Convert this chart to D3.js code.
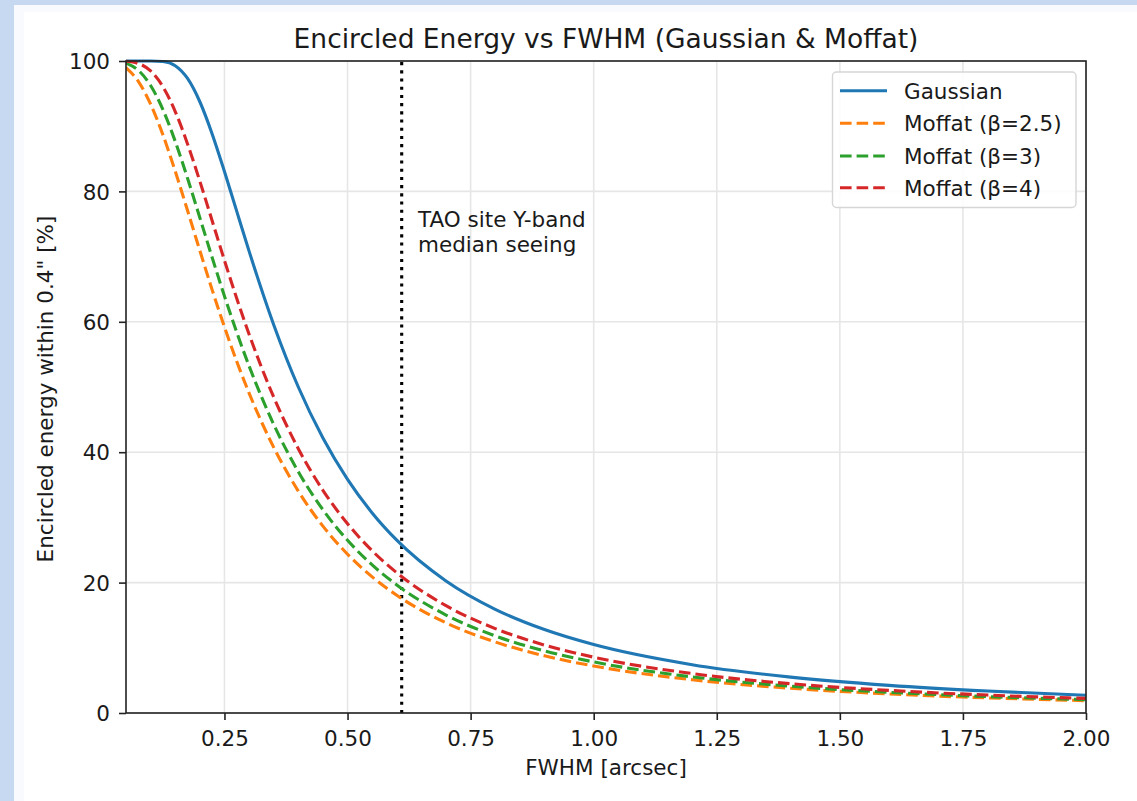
<!DOCTYPE html>
<html>
<head>
<meta charset="utf-8">
<script src="https://cdn.jsdelivr.net/npm/d3@7"></script>
<style>
  html, body { margin: 0; padding: 0; background: #ffffff; }
  svg { display: block; }
  text { font-family: "DejaVu Sans", sans-serif; fill: #1a1a1a; }
</style>
</head>
<body>
<svg id="chart" width="1137" height="801"></svg>
<script>
// ---- data ----
const fwhm = [0.05,0.075,0.1,0.125,0.15,0.175,0.2,0.225,0.25,0.275,0.3,0.35,0.4,0.45,0.5,0.55,0.6,0.7,0.8,0.9,1.0,1.2,1.4,1.6,1.8,2.0];
const gaussian = [100,100,100,99.92,99.28,97.32,93.75,88.82,83.04,76.93,70.84,59.56,50.0,42.17,35.83,30.69,26.51,20.26,15.91,12.80,10.50,7.41,5.50,4.24,3.37,2.73];
const moffat25 = [98.99,96.88,93.38,88.67,83.10,77.07,70.92,64.90,59.20,53.91,49.07,40.74,34.03,28.66,24.35,20.88,18.06,13.83,10.89,8.77,7.21,5.10,3.79,2.92,2.32,1.89];
const moffat3 = [99.68,98.58,96.24,92.54,87.67,82.01,75.96,69.86,63.94,58.37,53.22,44.27,37.00,31.17,26.49,22.71,19.64,15.03,11.83,9.53,7.83,5.54,4.11,3.17,2.52,2.05];
const moffat4 = [99.96,99.62,98.47,96.05,92.25,87.28,81.56,75.49,69.42,63.58,58.10,48.45,40.54,34.16,29.03,24.88,21.51,16.46,12.95,10.42,8.56,6.05,4.49,3.47,2.75,2.24];
const seriesNames = ["Gaussian", "Moffat (β=2.5)", "Moffat (β=3)", "Moffat (β=4)"];
const seriesColors = ["#1f77b4", "#ff7f0e", "#2ca02c", "#d62728"];
const seriesDashed = [false, true, true, true];
const xTicks = [0.25,0.5,0.75,1.0,1.25,1.5,1.75,2.0];
const yTicks = [0,20,40,60,80,100];
const seeingFwhm = 0.61;
const annotationLines = ["TAO site Y-band", "median seeing"];
const titleText = "Encircled Energy vs FWHM (Gaussian & Moffat)";
const xLabelText = "FWHM [arcsec]";
const yLabelText = "Encircled energy within 0.4\" [%]";

const allSeries = [gaussian, moffat25, moffat3, moffat4];

// ---- layout ----
const svg = d3.select("#chart");
const W = 1137, H = 801;
const m = {left: 126, right: 1086, top: 61, bottom: 713};

// background frame
svg.append("rect").attr("x",0).attr("y",0).attr("width",W).attr("height",H).attr("fill","#c6d9f0");
svg.append("rect").attr("x",14).attr("y",5).attr("width",W-14).attr("height",H-5).attr("fill","#f8fafd");
svg.append("rect").attr("x",24).attr("y",12).attr("width",W-24).attr("height",H-12).attr("fill","#ffffff");

const x = d3.scaleLinear().domain([0.05, 2.0]).range([m.left, m.right]);
const y = d3.scaleLinear().domain([0, 100]).range([m.bottom, m.top]);

// grid
const grid = svg.append("g").attr("class","grid");
grid.selectAll("line.gx").data(xTicks).join("line")
  .attr("x1", d => x(d)).attr("x2", d => x(d))
  .attr("y1", m.top).attr("y2", m.bottom)
  .attr("stroke", "#e6e6e6").attr("stroke-width", 1.6);
grid.selectAll("line.gy").data(yTicks).join("line")
  .attr("x1", m.left).attr("x2", m.right)
  .attr("y1", d => y(d)).attr("y2", d => y(d))
  .attr("stroke", "#e6e6e6").attr("stroke-width", 1.6);

// clip
svg.append("defs").append("clipPath").attr("id","plotclip")
  .append("rect").attr("x", m.left).attr("y", m.top - 2)
  .attr("width", m.right - m.left).attr("height", m.bottom - m.top + 2);

// lines
const line = d3.line()
  .x((d,i) => x(fwhm[i]))
  .y(d => y(d))
  .curve(d3.curveMonotoneX);

const plot = svg.append("g").attr("clip-path","url(#plotclip)");

// dotted seeing line
plot.append("line")
  .attr("x1", x(seeingFwhm)).attr("x2", x(seeingFwhm))
  .attr("y1", m.bottom).attr("y2", m.top)
  .attr("stroke", "#000").attr("stroke-width", 3.1)
  .attr("stroke-dasharray", "3.1,5.1");

allSeries.forEach((s, k) => {
  plot.append("path")
    .attr("d", line(s))
    .attr("fill", "none")
    .attr("stroke", seriesColors[k])
    .attr("stroke-width", 3.1)
    .attr("stroke-dasharray", seriesDashed[k] ? "11.6,5" : null);
});

// annotation
const ann = svg.append("text").attr("x", 418).attr("y", 227).style("font-size", "21.5px");
annotationLines.forEach((t, i) => {
  ann.append("tspan").attr("x", 418).attr("dy", i === 0 ? 0 : 25).text(t);
});

// axes
const xAxis = d3.axisBottom(x).tickValues(xTicks).tickFormat(d3.format(".2f")).tickSize(7).tickPadding(0);
const yAxis = d3.axisLeft(y).tickValues(yTicks).tickFormat(d3.format("d")).tickSize(7).tickPadding(0);

const gx = svg.append("g").attr("transform", `translate(0,${m.bottom})`).call(xAxis);
gx.select(".domain").remove();
gx.selectAll(".tick line").attr("stroke", "#222").attr("stroke-width", 1.6);
gx.selectAll(".tick text").attr("y", 33).attr("dy", 0).style("font-size", "21.5px")
  .style("font-family", "DejaVu Sans").attr("fill", "#1a1a1a");

const gy = svg.append("g").attr("transform", `translate(${m.left},0)`).call(yAxis);
gy.select(".domain").remove();
gy.selectAll(".tick line").attr("stroke", "#222").attr("stroke-width", 1.6);
gy.selectAll(".tick text").attr("x", -16).attr("dy", "0.36em").style("font-size", "21.5px")
  .style("font-family", "DejaVu Sans").attr("fill", "#1a1a1a");

// spines
svg.append("rect")
  .attr("x", m.left).attr("y", m.top)
  .attr("width", m.right - m.left).attr("height", m.bottom - m.top)
  .attr("fill", "none").attr("stroke", "#222").attr("stroke-width", 1.6);

// title & labels
svg.append("text").attr("x", (m.left + m.right) / 2).attr("y", 48)
  .attr("text-anchor", "middle").style("font-size", "26.5px").text(titleText);
svg.append("text").attr("x", (m.left + m.right) / 2).attr("y", 775)
  .attr("text-anchor", "middle").style("font-size", "21.5px").text(xLabelText);
svg.append("text").attr("transform", "translate(53,389) rotate(-90)")
  .attr("text-anchor", "middle").style("font-size", "21.5px").text(yLabelText);

// legend
const lg = svg.append("g");
lg.append("rect").attr("x", 832.5).attr("y", 72).attr("width", 243.5).attr("height", 135.5)
  .attr("rx", 4).attr("fill", "#ffffff").attr("fill-opacity", 0.85)
  .attr("stroke", "#d6d6d6").attr("stroke-width", 1.4);
const rowY = [90.7, 123.3, 156, 187.7];
seriesNames.forEach((nm, k) => {
  lg.append("line").attr("x1", 840).attr("x2", 887)
    .attr("y1", rowY[k]).attr("y2", rowY[k])
    .attr("stroke", seriesColors[k]).attr("stroke-width", 3.1)
    .attr("stroke-dasharray", seriesDashed[k] ? "11.6,5" : null);
  lg.append("text").attr("x", 904).attr("y", rowY[k] + 7.8)
    .style("font-size", "21.5px").text(nm);
});
</script>
</body>
</html>
